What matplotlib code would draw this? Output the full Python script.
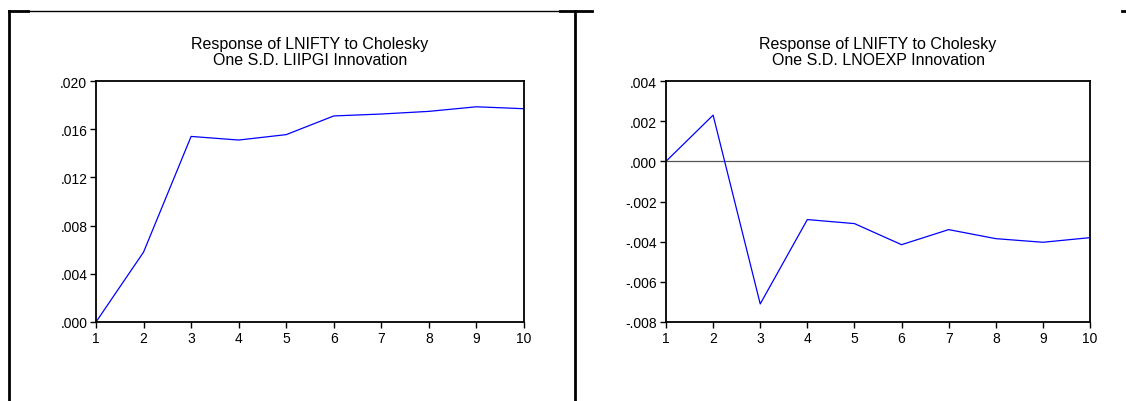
import matplotlib.pyplot as plt
from matplotlib.ticker import FuncFormatter
from matplotlib.lines import Line2D

plt.rcParams['font.family'] = ['Liberation Sans', 'DejaVu Sans']

# impulse response periods
periods = [1, 2, 3, 4, 5, 6, 7, 8, 9, 10]

# response of LNIFTY to LIIPGI shock
resp_liipgi = [0.0, 0.0058, 0.0154, 0.0151, 0.01555, 0.0171, 0.01726, 0.01748, 0.01786, 0.0177]

# response of LNIFTY to LNOEXP shock
resp_lnoexp = [0.0, 0.0023, -0.0071, -0.0029, -0.0031, -0.00415, -0.0034, -0.00385, -0.00403, -0.0038]

left_ticks = [0.000, 0.004, 0.008, 0.012, 0.016, 0.020]
right_ticks = [-0.008, -0.006, -0.004, -0.002, 0.000, 0.002, 0.004]


def eviews_fmt(v, pos):
    s = '%.3f' % v
    s = s.replace('0.', '.', 1)
    if s == '-.000':
        s = '.000'
    return s


def style_axes(ax, yticks, title):
    ax.set_xlim(1, 10)
    ax.set_xticks(periods)
    ax.set_ylim(yticks[0], yticks[-1])
    ax.set_yticks(yticks)
    ax.yaxis.set_major_formatter(FuncFormatter(eviews_fmt))
    for sp in ax.spines.values():
        sp.set_linewidth(1.3)
    ax.tick_params(direction='out', length=4.3, width=1, labelsize=10, pad=2)
    ax.set_title(title, fontsize=11.5, pad=12, linespacing=1.12)


fig = plt.figure(figsize=(11.26, 4.02), dpi=100)

ax1 = fig.add_axes([96 / 1126, 79 / 402, 428 / 1126, 241 / 402])
ax1.plot(periods, resp_liipgi, color='#0000ff', lw=0.9)
style_axes(ax1, left_ticks, 'Response of LNIFTY to Cholesky\nOne S.D. LIIPGI Innovation')

ax2 = fig.add_axes([666 / 1126, 79 / 402, 424 / 1126, 241 / 402])
ax2.axhline(0, color='#555555', lw=0.9)
ax2.plot(periods, resp_lnoexp, color='#0000ff', lw=0.9)
style_axes(ax2, right_ticks, 'Response of LNIFTY to Cholesky\nOne S.D. LNOEXP Innovation')

# page frame around the left panel (word-document table borders)
W, H = 1126, 402
def fx(x):
    return x / W
def fy(y):
    return 1 - y / H

frame = [
    ([9, 9], [12, 402], 2.0),
    ([9, 28], [12, 12], 2.0),
    ([28, 560], [12, 12], 1.0),
    ([560, 592], [12, 12], 2.0),
    ([575, 575], [12, 402], 2.0),
    ([1122, 1126], [12, 12], 2.0),
]
for xs, ys, w in frame:
    fig.add_artist(Line2D([fx(x) for x in xs], [fy(y) for y in ys], color='black', lw=w))

fig.savefig('out.png', dpi=100)
